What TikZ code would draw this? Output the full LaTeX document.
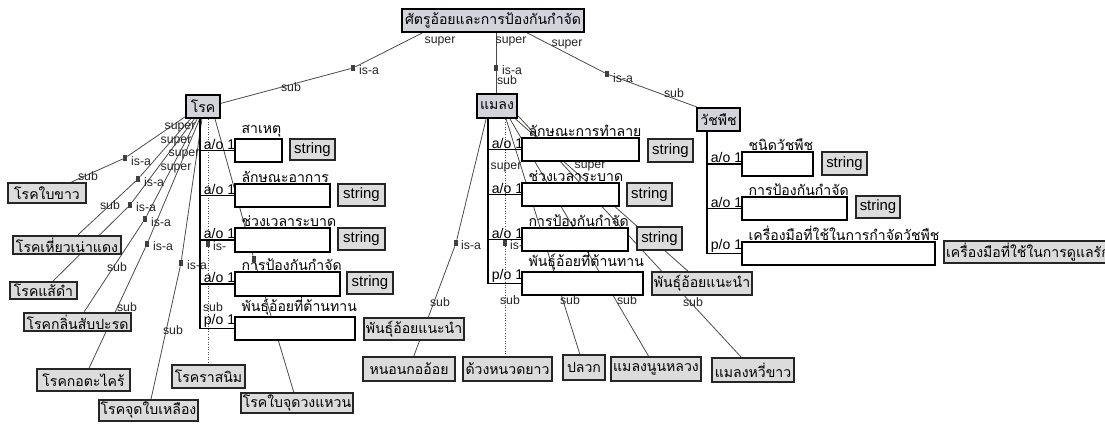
\documentclass[tikz,border=0pt]{standalone}
\usepackage{fontspec}
\setmainfont{Liberation Sans}
\newfontfamily\thai[Script=Thai]{Loma}
\usetikzlibrary{calc}
\pgfdeclarelayer{background}
\pgfdeclarelayer{paper}
\pgfsetlayers{paper,background,main}
\definecolor{clsfill}{HTML}{D2D3DB}
\definecolor{leaffill}{HTML}{DCDCDC}
\definecolor{edgecol}{HTML}{4A4A4A}

% box given by its pixel corners: name, style, x1, y1, x2, y2, text
\newcommand\pxbox[7]{%
  \node[#2, minimum width={(#5-#3)*0.02cm}, minimum height={(#6-#4)*0.02cm}]
    (#1) at ({(#3+#5)/2},{(#4+#6)/2}) {#7};}

\tikzset{
  cls/.style={draw=black, line width=1.1pt, fill=clsfill, inner sep=1.5pt,
    font=\thai\fontsize{8}{10}\selectfont},
  leaf/.style={draw=black!85, line width=1.1pt, fill=leaffill, inner sep=1.2pt,
    font=\thai\fontsize{8}{10}\selectfont},
  val/.style={draw=black, line width=0.7pt, fill=white, inner sep=0pt},
  strbox/.style={draw=black!85, line width=1pt, fill=leaffill, inner sep=1pt,
    font=\fontsize{8.5}{10}\selectfont},
  lab/.style={inner sep=0.5pt, font=\fontsize{7}{8}\selectfont, text=black!85},
  card/.style={inner sep=0.5pt, anchor=south west, xshift=1.5pt,
    font=\fontsize{8}{9}\selectfont},
  slot/.style={inner sep=0.5pt, anchor=south west, xshift=0.12cm,
    font=\thai\fontsize{8}{9}\selectfont},
  isa/.style={fill=black!75, minimum width=0.08cm, minimum height=0.12cm, inner sep=0pt},
  isaline/.style={draw=edgecol, line width=0.45pt},
  brk/.style={draw=black, line width=0.8pt},
}

\begin{document}
\begin{tikzpicture}[x=0.02cm, y=-0.02cm]
\useasboundingbox (0,0) rectangle (1105,425);
\clip (0,0) rectangle (1105,425);
\begin{pgfonlayer}{paper}
\fill[white] (0,0) rectangle (1105,425);
\end{pgfonlayer}

% ---------- classes ----------
\pxbox{top}{cls}{403}{9}{583}{32}{ศัตรูอ้อยและการป้องกันกำจัด}
\pxbox{roc}{cls}{186}{95}{220}{118}{โรค}
\pxbox{mlg}{cls}{477}{94}{517}{118}{แมลง}
\pxbox{wch}{cls}{697}{108}{740}{131}{วัชพืช}

% ---------- diseases ----------
\pxbox{l1}{leaf}{8}{183}{86}{203}{โรคใบขาว}
\pxbox{l2}{leaf}{13}{236}{121}{254}{โรคเหี่ยวเน่าแดง}
\pxbox{l3}{leaf}{10}{282}{77}{299}{โรคแส้ดำ}
\pxbox{l4}{leaf}{25}{313}{130}{331}{โรคกลิ่นสับปะรด}
\pxbox{l5}{leaf}{37}{369}{130}{391}{โรคกอตะไคร้}
\pxbox{l6}{leaf}{100}{400}{197}{421}{โรคจุดใบเหลือง}
\pxbox{l7}{leaf}{172}{365}{245}{388}{โรคราสนิม}
\pxbox{l8}{leaf}{242}{393}{352}{413}{โรคใบจุดวงแหวน}

% disease slots
\pxbox{rv1}{val}{235}{139}{282}{162}{}
\pxbox{rs1}{strbox}{290}{139}{335}{160}{string}
\pxbox{rv2}{val}{235}{184}{330}{207}{}
\pxbox{rs2}{strbox}{338}{184}{385}{206}{string}
\pxbox{rv3}{val}{235}{228}{330}{252}{}
\pxbox{rs3}{strbox}{338}{228}{385}{250}{string}
\pxbox{rv4}{val}{235}{272}{340}{296}{}
\pxbox{rs4}{strbox}{347}{272}{393}{294}{string}
\pxbox{rv5}{val}{235}{317}{355}{340}{}
\node[slot] at (rv1.north west) {สาเหตุ};
\node[slot] at (rv2.north west) {ลักษณะอาการ};
\node[slot] at (rv3.north west) {ช่วงเวลาระบาด};
\node[slot] at (rv4.north west) {การป้องกันกำจัด};
\node[slot] at (rv5.north west) {พันธุ์อ้อยที่ต้านทาน};

% ---------- insects ----------
\pxbox{n0}{leaf}{365}{318}{463}{340}{พันธุ์อ้อยแนะนำ}
\pxbox{n1}{leaf}{363}{357}{455}{381}{หนอนกออ้อย}
\pxbox{n2}{leaf}{463}{357}{552}{381}{ด้วงหนวดยาว}
\pxbox{n3}{leaf}{563}{355}{605}{380}{ปลวก}
\pxbox{n4}{leaf}{612}{357}{700}{381}{แมลงนูนหลวง}
\pxbox{n5}{leaf}{712}{358}{794}{382}{แมลงหวี่ขาว}
\pxbox{n6}{leaf}{652}{272}{752}{295}{พันธุ์อ้อยแนะนำ}

% insect slots
\pxbox{mv1}{val}{522}{138}{639}{161}{}
\pxbox{ms1}{strbox}{648}{139}{693}{162}{string}
\pxbox{mv2}{val}{522}{183}{619}{206}{}
\pxbox{ms2}{strbox}{627}{183}{672}{206}{string}
\pxbox{mv3}{val}{522}{228}{628}{251}{}
\pxbox{ms3}{strbox}{637}{227}{682}{250}{string}
\pxbox{mv4}{val}{522}{272}{643}{295}{}
\node[slot] at (mv1.north west) {ลักษณะการทำลาย};
\node[slot] at (mv2.north west) {ช่วงเวลาระบาด};
\node[slot] at (mv3.north west) {การป้องกันกำจัด};
\node[slot] at (mv4.north west) {พันธุ์อ้อยที่ต้านทาน};

% ---------- weeds ----------
\pxbox{wv1}{val}{742}{152}{813}{176}{}
\pxbox{ws1}{strbox}{822}{152}{867}{175}{string}
\pxbox{wv2}{val}{742}{197}{847}{220}{}
\pxbox{ws2}{strbox}{856}{196}{900}{218}{string}
\pxbox{wv3}{val}{742}{242}{935}{265}{}
\node[leaf, anchor=west, minimum height=0.44cm] (wt) at (943,252) {เครื่องมือที่ใช้ในการดูแลรักษา};
\node[slot] at (wv1.north west) {ชนิดวัชพืช};
\node[slot] at (wv2.north west) {การป้องกันกำจัด};
\node[slot] at (wv3.north west) {เครื่องมือที่ใช้ในการกำจัดวัชพืช};

% ---------- slot brackets ----------
\coordinate (rb) at (200,0);
\coordinate (mb) at (488,0);
\coordinate (wb) at (707,0);
\draw[brk] (roc.south -| rb) -- (rb |- rv5.west) -- (rv5.west);
\foreach \v in {rv1,rv2,rv3,rv4} \draw[brk] (rb |- \v.west) -- (\v.west);
\draw[brk] (mlg.south -| mb) -- (mb |- mv4.west) -- (mv4.west);
\foreach \v in {mv1,mv2,mv3} \draw[brk] (mb |- \v.west) -- (\v.west);
\draw[brk] (wch.south -| wb) -- (wb |- wv3.west) -- (wv3.west);
\foreach \v in {wv1,wv2} \draw[brk] (wb |- \v.west) -- (\v.west);
\node[card] at (rb |- rv1.west) {a/o 1};
\node[card] at (rb |- rv2.west) {a/o 1};
\node[card] at (rb |- rv3.west) {a/o 1};
\node[card] at (rb |- rv4.west) {a/o 1};
\node[card] at (rb |- rv5.west) {p/o 1};
\node[card] at (mb |- mv1.west) {a/o 1};
\node[card] at (mb |- mv2.west) {a/o 1};
\node[card] at (mb |- mv3.west) {a/o 1};
\node[card] at (mb |- mv4.west) {p/o 1};
\node[card] at (wb |- wv1.west) {a/o 1};
\node[card] at (wb |- wv2.west) {a/o 1};
\node[card] at (wb |- wv3.west) {p/o 1};

% ---------- is-a markers ----------
\node[isa] (mt1) at (353,68) {};
\node[isa] (mt2) at (496,68) {};
\node[isa] (mt3) at (607,74) {};
\node[isa] (mr1) at (125,158) {};
\node[isa] (mr2) at (138,179) {};
\node[isa] (mr3) at (130,205) {};
\node[isa] (mr4) at (145,219) {};
\node[isa] (mr5) at (147,244) {};
\node[isa] (mr6) at (181,263) {};
\node[isa] (mr7) at (208,244) {};
\node[isa] (mr8) at (254,259) {};
\node[isa] (mm1) at (456,243) {};
\node[isa] (mm2) at (505,243) {};

% ---------- is-a connectors ----------
\begin{pgfonlayer}{background}
\draw[isaline] (top.190) -- (mt1) -- (roc.10);
\draw[isaline] (top.south -| mt2) -- (mt2) -- (mlg.north -| mt2);
\draw[isaline] (top.-20) -- (mt3) -- (wch.150);

\draw[isaline] (roc.-150) -- (mr1) -- (l1);
\draw[isaline] (roc.-135) -- (mr2) -- (l2);
\draw[isaline] (roc.-125) -- (mr3) -- (l3);
\draw[isaline] (roc.-115) -- (mr4) -- (l4);
\draw[isaline] (roc.-105) -- (mr5) -- (l5);
\draw[isaline] (roc.-95) -- (mr6) -- (l6);
\draw[isaline, densely dotted] (roc.south -| mr7) -- (mr7) -- (l7.north -| mr7);
\draw[isaline] (roc.-46) -- (mr8) -- (l8);

\draw[isaline] (mlg.-130) -- (mm1) -- (n1);
\draw[isaline, densely dotted] (mlg.south -| mm2) -- (mm2) -- (n2.north -| mm2);
\draw[isaline] (mlg.-55) -- (n3);
\draw[isaline] (mlg.-45) -- (n4);
\draw[isaline] (mlg.-35) -- (n6);
\draw[isaline] (mlg.-25) -- (n5);

% labels partly hidden by the slot boxes
\node[lab, anchor=west] at (212,246) {is-};
\node[lab, anchor=west] at (509,245) {is-a};
\end{pgfonlayer}

% ---------- role labels ----------
\node[lab] at (440,41) {super};
\node[lab] at (511,41) {super};
\node[lab] at (567,44) {super};
\node[lab, anchor=west] at (358,70) {is-a};
\node[lab, anchor=west] at (501,70) {is-a};
\node[lab] at (507,80) {sub};
\node[lab, anchor=west] at (612,78) {is-a};
\node[lab] at (674,93) {sub};
\node[lab] at (291,87) {sub};

\foreach \p in {(180,127),(176,141),(184,154),(176,168)}
  \node[lab] at \p {super};
\node[lab, anchor=west] at (130,161) {is-a};
\node[lab, anchor=west] at (143,182) {is-a};
\node[lab, anchor=west] at (135,207) {is-a};
\node[lab, anchor=west] at (150,222) {is-a};
\node[lab, anchor=west] at (152,246) {is-a};
\node[lab, anchor=west] at (186,265) {is-a};
\node[lab] at (88,176) {sub};
\node[lab] at (110,205) {sub};
\node[lab] at (117,267) {sub};
\node[lab] at (127,307) {sub};
\node[lab] at (173,330) {sub};
\node[lab] at (213,307) {sub};

\foreach \p in {(506,167),(590,166)}
  \node[lab] at \p {super};
\node[lab, anchor=west] at (460,245) {is-a};
\node[lab] at (440,302) {sub};
\node[lab] at (510,300) {sub};
\node[lab] at (570,300) {sub};
\node[lab] at (627,300) {sub};
\node[lab] at (693,302) {sub};
\end{tikzpicture}
\end{document}
